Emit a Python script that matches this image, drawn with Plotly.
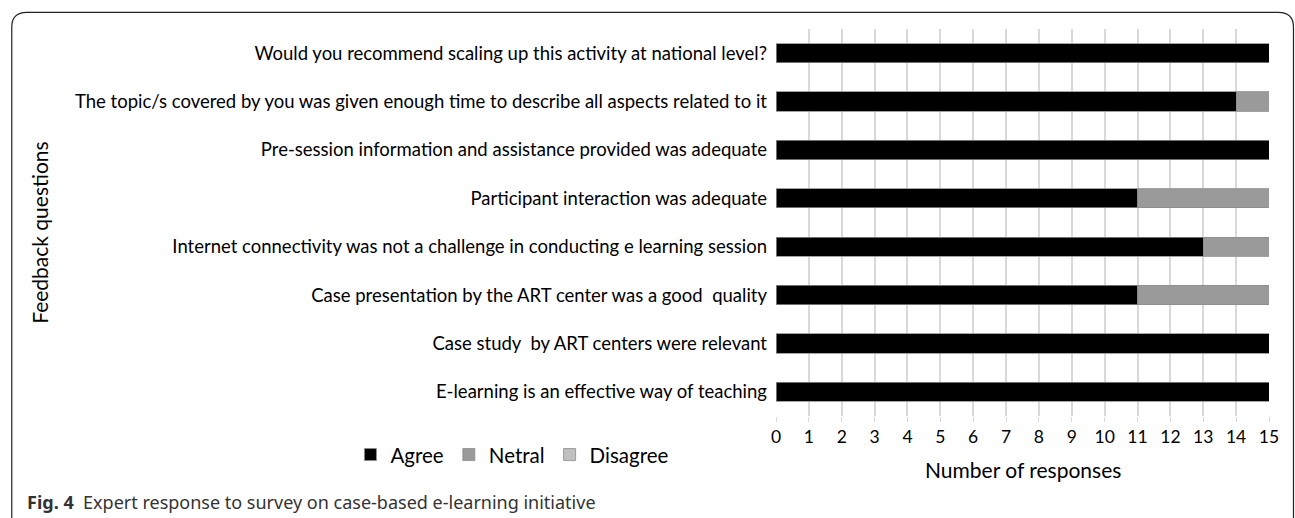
import plotly.graph_objects as go

categories = [
    "E-learning is an effective way of teaching",
    "Case study  by ART centers were relevant",
    "Case presentation by the ART center was a good  quality",
    "Internet connectivity was not a challenge in conducting e learning session",
    "Participant interaction was adequate",
    "Pre-session information and assistance provided was adequate",
    "The topic/s covered by you was given enough time to describe all aspects related to it",
    "Would you recommend scaling up this activity at national level?",
]
agree = [15, 15, 11, 13, 11, 15, 14, 15]
netral = [0, 0, 4, 2, 4, 0, 1, 0]
disagree = [0, 0, 0, 0, 0, 0, 0, 0]
x_ticks = list(range(0, 16))

FONT = "Lato"
W, H = 1295, 518
L, R, T, B = 776, 1269.5, 28.6, 416.2

fig = go.Figure()
for name, vals, col in [("Agree", agree, "#000000"), ("Netral", netral, "#9a9a9a"), ("Disagree", disagree, "#c0c0c0")]:
    fig.add_trace(go.Bar(
        y=categories, x=vals, name=name, orientation="h",
        marker=dict(color=col, line=dict(color="#8c8c8c", width=0.8)),
    ))

def px(xp):
    return (xp - L) / (R - L)

def py(yp):
    return (B - yp) / (B - T)

# rounded frame (open at bottom)
r = 15
x0, x1, y0, y1 = 11, 1294, 12, 530
path = (f"M {px(x0)},{py(y1)} L {px(x0)},{py(y0 + r)} "
        f"Q {px(x0)},{py(y0)} {px(x0 + r)},{py(y0)} "
        f"L {px(x1 - r)},{py(y0)} Q {px(x1)},{py(y0)} {px(x1)},{py(y0 + r)} "
        f"L {px(x1)},{py(y1)}")
fig.add_shape(type="path", path=path, xref="paper", yref="paper",
              line=dict(color="#222222", width=1.2), layer="above")

fig.update_layout(
    width=W, height=H,
    margin=dict(l=L, r=W - R, t=T, b=H - B, pad=0),
    barmode="stack", bargap=0.6,
    plot_bgcolor="white", paper_bgcolor="white",
    font=dict(family=FONT, size=18.5, color="#000000"),
    showlegend=True,
    legend=dict(orientation="h", x=px(350), y=py(455), xanchor="left", yanchor="middle",
                font=dict(size=20.5, family=FONT), traceorder="normal",
                itemwidth=30, tracegroupgap=0),
    xaxis=dict(range=[0, 15], tickvals=x_ticks, ticktext=[str(v) for v in x_ticks],
               showgrid=True, gridcolor="#d9d9d9", gridwidth=1.5, zeroline=False,
               showline=False, ticks="outside", ticklen=5, tickcolor="#d9d9d9",
               tickfont=dict(size=17.5), automargin=False),
    yaxis=dict(showgrid=False, ticks="", showline=False, ticklabelstandoff=8,
               tickfont=dict(size=18.5), automargin=False),
)

fig.add_annotation(text="Number of responses", xref="paper", yref="paper",
                   x=0.5, y=py(470), xanchor="center", yanchor="middle",
                   showarrow=False, font=dict(size=21, family=FONT))
fig.add_annotation(text="Feedback questions", xref="paper", yref="paper",
                   x=px(38), y=py(233), xanchor="center", yanchor="middle",
                   textangle=-90, showarrow=False, font=dict(size=21, family=FONT))
fig.add_annotation(text="<b>Fig. 4</b>  Expert response to survey on case-based e-learning initiative",
                   xref="paper", yref="paper", x=px(24), y=py(502),
                   xanchor="left", yanchor="middle", showarrow=False,
                   font=dict(size=18, family="Noto Sans", color="#333333"))

fig.write_html("out.html", config={"displayModeBar": False},
               post_script="document.body.style.margin='0px';")
